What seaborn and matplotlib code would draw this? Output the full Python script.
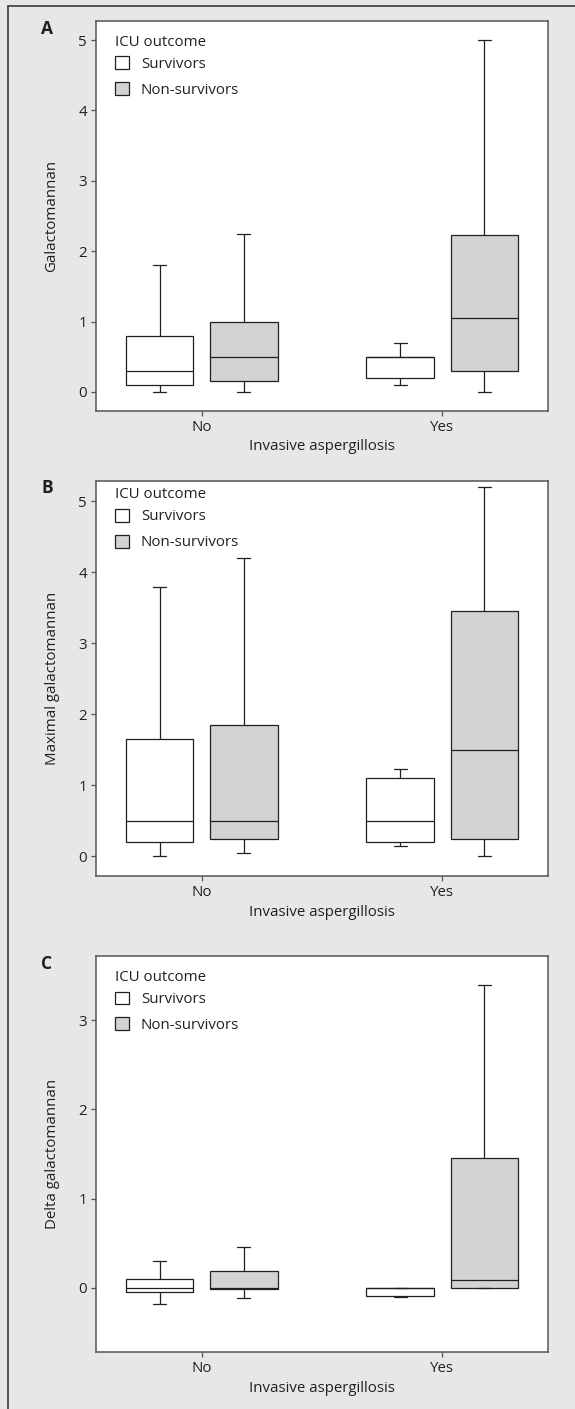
import numpy as np
import pandas as pd
import matplotlib
matplotlib.use("Agg")
import matplotlib.pyplot as plt
from matplotlib.lines import Line2D
import seaborn as sns

groups = ["No", "Yes"]
outcomes = ["Survivors", "Non-survivors"]

# Five-number summaries per box: minimum, lower quartile, median, upper quartile, maximum
gm_no_surv = [0.00, 0.10, 0.30, 0.80, 1.80]
gm_no_nonsurv = [0.00, 0.15, 0.50, 1.00, 2.25]
gm_yes_surv = [0.10, 0.20, 0.50, 0.50, 0.70]
gm_yes_nonsurv = [0.00, 0.30, 1.05, 2.23, 5.00]

maxgm_no_surv = [0.00, 0.20, 0.50, 1.65, 3.80]
maxgm_no_nonsurv = [0.05, 0.25, 0.50, 1.85, 4.20]
maxgm_yes_surv = [0.15, 0.20, 0.50, 1.10, 1.23]
maxgm_yes_nonsurv = [0.00, 0.25, 1.50, 3.45, 5.20]

delta_no_surv = [-0.18, -0.05, 0.00, 0.10, 0.30]
delta_no_nonsurv = [-0.11, -0.01, 0.00, 0.19, 0.46]
delta_yes_surv = [-0.10, -0.09, 0.00, 0.00, 0.00]
delta_yes_nonsurv = [0.00, 0.00, 0.09, 1.45, 3.40]

panel_letters = ["A", "B", "C"]
y_labels = ["Galactomannan", "Maximal galactomannan", "Delta galactomannan"]
x_label = "Invasive aspergillosis"
legend_title = "ICU outcome"

BG = "#e6e7e8"
FILL_GREY = "#d1d3d4"
LINE = "#231f20"
SPINE = "#555557"
FS = 10.8


def long_frame(no_surv, no_non, yes_surv, yes_non):
    rows = []
    for grp, outc, vals in [("No", "Survivors", no_surv),
                            ("No", "Non-survivors", no_non),
                            ("Yes", "Survivors", yes_surv),
                            ("Yes", "Non-survivors", yes_non)]:
        for v in vals:
            rows.append((grp, outc, v))
    return pd.DataFrame(rows, columns=["aspergillosis", "outcome", "value"])


frames = [
    long_frame(gm_no_surv, gm_no_nonsurv, gm_yes_surv, gm_yes_nonsurv),
    long_frame(maxgm_no_surv, maxgm_no_nonsurv, maxgm_yes_surv, maxgm_yes_nonsurv),
    long_frame(delta_no_surv, delta_no_nonsurv, delta_yes_surv, delta_yes_nonsurv),
]

sns.set_style("ticks")
plt.rcParams["font.family"] = ["Open Sans", "DejaVu Sans"]
plt.rcParams["font.size"] = FS

W, H = 575, 1409
fig = plt.figure(figsize=(W / 100, H / 100), dpi=100, facecolor=BG)

# axes boxes in pixels: (left, top, right, bottom)
boxes_px = [(96, 21, 548, 411), (96, 481, 548, 876), (96, 956, 548, 1352)]
ylims = [(-0.27, 5.27), (-0.277, 5.286), (-0.72, 3.72)]
yticks = [range(0, 6), range(0, 6), range(0, 4)]
letter_y = [29, 488, 964]
legend_top_px = [31, 483.5, 966]

for i, df in enumerate(frames):
    l, t, r, b = boxes_px[i]
    ax = fig.add_axes([l / W, 1 - b / H, (r - l) / W, (b - t) / H])
    ax.set_facecolor("white")
    sns.boxplot(
        data=df, x="aspergillosis", y="value", hue="outcome",
        order=groups, hue_order=outcomes,
        palette={"Survivors": "white", "Non-survivors": FILL_GREY},
        saturation=1, width=0.7, gap=0.2, whis=(0, 100),
        linecolor=LINE, linewidth=0.9, fliersize=0, capwidths=0.055,
        ax=ax,
    )
    ax.set_xlim(-0.44, 1.44)
    ax.set_ylim(*ylims[i])
    ax.set_yticks(list(yticks[i]))
    ax.set_ylabel(y_labels[i], fontsize=FS, color=LINE, va="center")
    ax.set_xlabel(x_label, fontsize=FS, color=LINE, va="center")
    ax.yaxis.set_label_coords((52 - l) / (r - l), 0.5)
    ax.xaxis.set_label_coords(0.5, -36 / (b - t))
    for s in ax.spines.values():
        s.set_visible(True)
        s.set_color(SPINE)
        s.set_linewidth(1.1)
    ax.tick_params(axis="both", length=3.5, width=0.9, color=SPINE,
                   labelsize=FS, labelcolor=LINE, pad=3)
    sns.move_legend(
        ax, "upper left",
        bbox_to_anchor=((115 - l) / (r - l), 1 - (legend_top_px[i] - t) / (b - t)),
        title=legend_title, frameon=False, fontsize=FS, title_fontsize=FS,
        handlelength=0.92, handleheight=0.92, handletextpad=0.8,
        labelspacing=0.7, borderpad=0, borderaxespad=0, alignment="left",
    )
    leg = ax.get_legend()
    leg.get_title().set_color(LINE)
    # pull the title a little closer to the entries
    leg.get_title().set_position((0, -4))
    for txt in leg.get_texts():
        txt.set_color(LINE)
    for h in leg.legend_handles:
        h.set_edgecolor(LINE)
        h.set_linewidth(0.9)
    fig.text(47 / W, 1 - letter_y[i] / H, panel_letters[i], fontsize=12.5,
             fontweight="bold", color=LINE, ha="center", va="center")

# page frame along the top and left edges
fig.add_artist(Line2D([8 / W, 1], [1 - 6 / H, 1 - 6 / H], color="#3a3a3c",
                      linewidth=1.2, transform=fig.transFigure))
fig.add_artist(Line2D([8 / W, 8 / W], [0, 1 - 6 / H], color="#3a3a3c",
                      linewidth=1.2, transform=fig.transFigure))

fig.savefig("out.png", dpi=100, facecolor=BG)
